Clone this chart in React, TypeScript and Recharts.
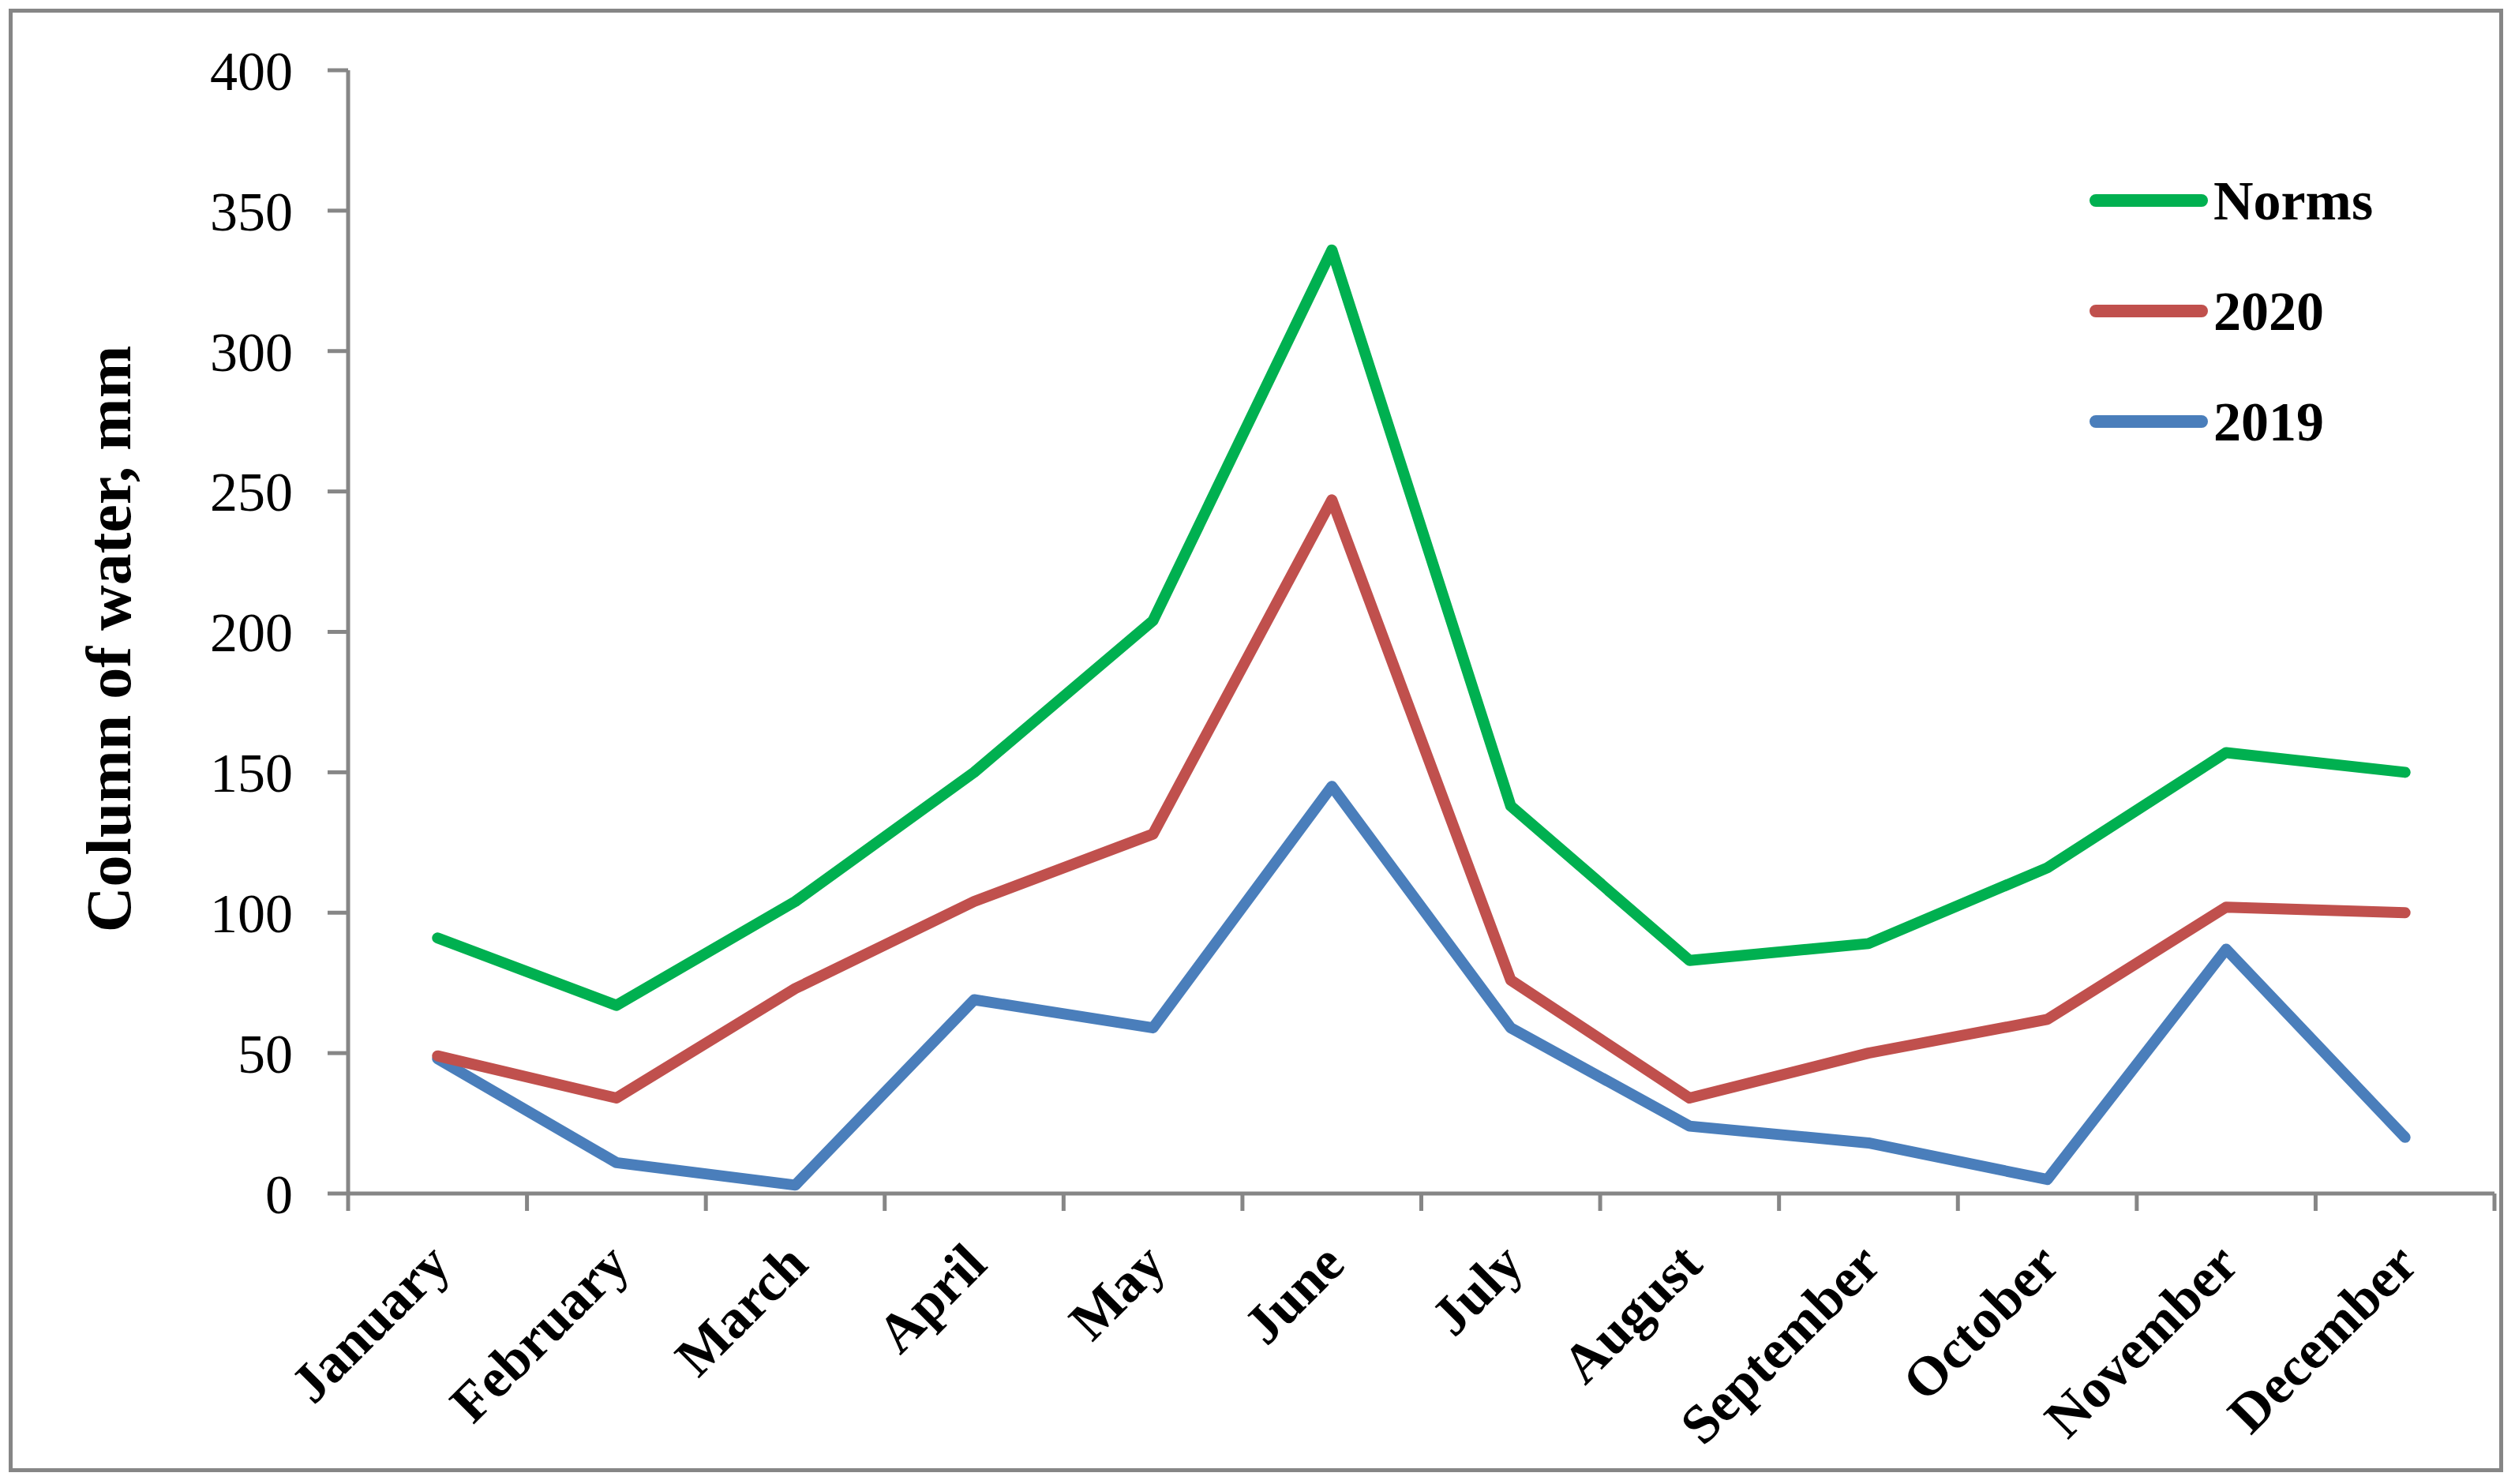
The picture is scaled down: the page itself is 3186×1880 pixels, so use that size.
import React from 'react';
import { LineChart, Line, XAxis, YAxis, Legend } from 'recharts';

const months = [
  'January', 'February', 'March', 'April', 'May', 'June',
  'July', 'August', 'September', 'October', 'November', 'December',
];
const norms = [91, 67, 104, 150, 204, 336, 138, 83, 89, 116, 157, 150];
const y2020 = [49, 34, 73, 104, 128, 247, 76, 34, 50, 62, 102, 100];
const y2019 = [48, 11, 3, 69, 59, 145, 59, 24, 18, 5, 87, 20];
const yTicks = [0, 50, 100, 150, 200, 250, 300, 350, 400];
const legendOrder = ['Norms', '2020', '2019'];

const data = months.map((m, i) => ({
  month: m,
  norms: norms[i],
  y2020: y2020[i],
  y2019: y2019[i],
}));

const AXIS = '#868686';
const SERIF = '"Liberation Serif", "Times New Roman", serif';
const GREEN = '#00B050';
const RED = '#C0504D';
const BLUE = '#4A7EBB';

const MonthTick = (props: any) => {
  const { x, y, payload, width, visibleTicksCount, index } = props;
  const half =
    payload && typeof payload.offset === 'number' && payload.offset > 0
      ? payload.offset
      : width / visibleTicksCount / 2;
  const lx = x + 19;
  const ly = y + 93;
  return (
    <g>
      <line x1={x - half} x2={x - half} y1={y} y2={y + 22} stroke={AXIS} strokeWidth={5} />
      {index === visibleTicksCount - 1 && (
        <line x1={x + half} x2={x + half} y1={y} y2={y + 22} stroke={AXIS} strokeWidth={5} />
      )}
      <text
        x={lx}
        y={ly}
        textAnchor="end"
        transform={`rotate(-45 ${lx} ${ly})`}
        fontFamily={SERIF}
        fontWeight="bold"
        fontSize={70}
        fill="#000"
      >
        {payload.value}
      </text>
    </g>
  );
};

const YTitle = (props: any) => {
  const vb = props.viewBox || { x: 0, y: 89, width: 441, height: 1423 };
  const cx = vb.x + 138;
  const cy = vb.y + vb.height / 2 + 9;
  return (
    <text
      x={cx}
      y={cy}
      textAnchor="middle"
      dominantBaseline="central"
      transform={`rotate(-90 ${cx} ${cy})`}
      fontFamily={SERIF}
      fontWeight="bold"
      fontSize={80}
      fill="#000"
    >
      Column of water, mm
    </text>
  );
};

const LegendContent = (props: any) => {
  const payload: any[] = props.payload || [];
  const items = legendOrder
    .map((n) => payload.find((p) => p.value === n))
    .filter(Boolean);
  return (
    <svg width={560} height={420} style={{ display: 'block' }}>
      {items.map((p: any, i: number) => {
        const cy = 54 + i * 140;
        return (
          <g key={p.value}>
            <line
              x1={55}
              x2={189}
              y1={cy}
              y2={cy}
              stroke={p.color}
              strokeWidth={16}
              strokeLinecap="round"
            />
            <text
              x={204}
              y={cy + 24}
              fontFamily={SERIF}
              fontWeight="bold"
              fontSize={70}
              fill="#000"
            >
              {p.value}
            </text>
          </g>
        );
      })}
    </svg>
  );
};

export default function App() {
  return (
    <div style={{ position: 'absolute', left: 0, top: 0, width: 3186, height: 1880, background: '#fff' }}>
      <div
        style={{
          position: 'absolute',
          left: 11,
          top: 11,
          width: 3160,
          height: 1854,
          boxSizing: 'border-box',
          border: `5px solid ${AXIS}`,
        }}
      />
      <div style={{ position: 'absolute', left: 0, top: 0 }}>
        <LineChart
          width={3186}
          height={1880}
          data={data}
          margin={{ top: 89, right: 26, bottom: 0, left: 0 }}
        >
          <XAxis
            dataKey="month"
            scale="band"
            interval={0}
            height={368}
            tickLine={false}
            tickSize={0}
            tickMargin={0}
            axisLine={{ stroke: AXIS, strokeWidth: 5 }}
            tick={<MonthTick />}
          />
          <YAxis
            width={441}
            domain={[0, 400]}
            ticks={yTicks}
            interval={0}
            tickSize={26}
            tickMargin={44}
            axisLine={{ stroke: AXIS, strokeWidth: 5 }}
            tickLine={{ stroke: AXIS, strokeWidth: 5 }}
            tick={{ fontFamily: SERIF, fontSize: 70, fill: '#000' }}
            label={<YTitle />}
          />
          <Legend
            layout="vertical"
            align="center"
            verticalAlign="middle"
            width={560}
            height={420}
            wrapperStyle={{ left: 2600, top: 200, width: 560, height: 420 }}
            content={<LegendContent />}
          />
          <Line
            type="linear"
            dataKey="y2019"
            name="2019"
            stroke={BLUE}
            strokeWidth={14}
            strokeLinejoin="round"
            strokeLinecap="round"
            dot={false}
            activeDot={false}
            isAnimationActive={false}
          />
          <Line
            type="linear"
            dataKey="y2020"
            name="2020"
            stroke={RED}
            strokeWidth={14}
            strokeLinejoin="round"
            strokeLinecap="round"
            dot={false}
            activeDot={false}
            isAnimationActive={false}
          />
          <Line
            type="linear"
            dataKey="norms"
            name="Norms"
            stroke={GREEN}
            strokeWidth={14}
            strokeLinejoin="round"
            strokeLinecap="round"
            dot={false}
            activeDot={false}
            isAnimationActive={false}
          />
        </LineChart>
      </div>
    </div>
  );
}
